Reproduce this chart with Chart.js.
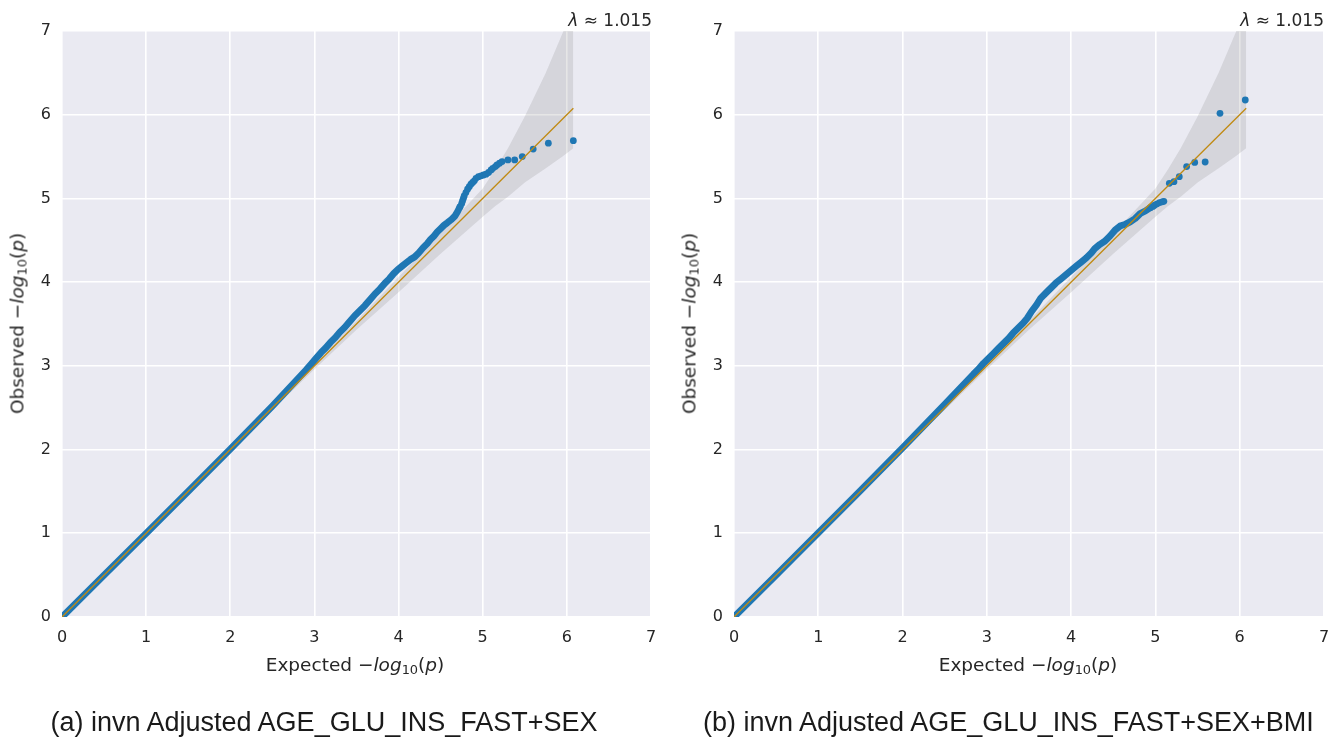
<!DOCTYPE html>
<html>
<head>
<meta charset="utf-8">
<script src="https://cdn.jsdelivr.net/npm/chart.js@4.4.1/dist/chart.umd.min.js"></script>
<style>
  html, body { margin: 0; padding: 0; background: #ffffff; }
  #page { position: relative; width: 1343px; height: 741px; overflow: hidden; }
  canvas { position: absolute; top: 0; }
  .txt { position: absolute; color: #262626; font-family: "DejaVu Sans", sans-serif; line-height: 1; white-space: nowrap; }
  .cap { position: absolute; color: #1a1a1a; font-family: "Liberation Sans", "DejaVu Sans", sans-serif; font-size: 27px; line-height: 1; white-space: nowrap; text-align: center; }
  sub { font-size: 70%; vertical-align: -0.25em; line-height: 0; }
</style>
</head>
<body>
<div id="page">
  <canvas id="qqA" width="671" height="741" style="left:0px"></canvas>
  <canvas id="qqB" width="671" height="741" style="left:672px"></canvas>

  <div class="txt" style="left:452px; top:12px; width:200px; text-align:right; font-size:17px;"><i>λ</i> ≈ 1.015</div>
  <div class="txt" style="left:1124px; top:12px; width:200px; text-align:right; font-size:17px;"><i>λ</i> ≈ 1.015</div>

  <div class="txt" style="left:155px; top:656px; width:400px; text-align:center; font-size:18.5px;">Expected −<i>log</i><sub>10</sub>(<i>p</i>)</div>
  <div class="txt" style="left:828px; top:656px; width:400px; text-align:center; font-size:18.5px;">Expected −<i>log</i><sub>10</sub>(<i>p</i>)</div>

  <div class="txt" style="left:-132px; top:314px; width:300px; height:19px; text-align:center; font-size:18.5px; transform:rotate(-90deg);">Observed −<i>log</i><sub>10</sub>(<i>p</i>)</div>
  <div class="txt" style="left:540px; top:314px; width:300px; height:19px; text-align:center; font-size:18.5px; transform:rotate(-90deg);">Observed −<i>log</i><sub>10</sub>(<i>p</i>)</div>

  <div class="cap" style="left:24px; top:709px; width:600px;">(a) invn Adjusted AGE_GLU_INS_FAST+SEX</div>
  <div class="cap" style="left:703px; top:709px; width:600px;">(b) invn Adjusted AGE_GLU_INS_FAST+SEX+BMI</div>
</div>
<script>
// Axis ticks shared by both panels (expected and observed -log10 p)
const axisTicks = [0, 1, 2, 3, 4, 5, 6, 7];

// Null line y = x, from zero to the largest expected value
const diagX = [0, 6.077];

// 95% confidence band around the null line
const bandX     = [0, 1,     2,     3,    3.5,  4,    4.5,  5,    5.15, 5.3,  5.5,  5.75, 5.96, 6.077];
const bandUpper = [0, 1.005, 2.015, 3.03, 3.54, 4.06, 4.58, 5.12, 5.35, 5.6,  5.98, 6.5,  7.0,  7.3];
const bandLower = [0, 0.995, 1.985, 2.96, 3.43, 3.88, 4.34, 4.78, 4.91, 5.02, 5.19, 5.36, 5.51, 5.6];

// (a) AGE_GLU_INS_FAST+SEX: overlapping points, drawn as one thick trace
const bulkExpA = [0, 0.5, 1, 1.5, 2, 2.5, 2.90, 2.96, 3.02, 3.08, 3.13, 3.19, 3.25, 3.30, 3.36, 3.42,
  3.48, 3.54, 3.60, 3.66, 3.72, 3.78, 3.84, 3.89, 3.94, 3.99, 4.04, 4.09, 4.14, 4.19, 4.24, 4.29,
  4.34, 4.38, 4.42, 4.46, 4.50, 4.54, 4.58, 4.63, 4.67, 4.70, 4.73];
const bulkObsA = [0, 0.5, 1.0, 1.5, 2.005, 2.52, 2.95, 3.02, 3.09, 3.16, 3.21, 3.28, 3.34, 3.40, 3.46, 3.53,
  3.60, 3.66, 3.72, 3.79, 3.86, 3.92, 3.99, 4.04, 4.10, 4.15, 4.19, 4.23, 4.27, 4.30, 4.35, 4.41,
  4.46, 4.51, 4.55, 4.60, 4.64, 4.68, 4.71, 4.75, 4.79, 4.84, 4.90];

// (a) most significant hits, individual points
const tailExpA = [4.73, 4.75, 4.76, 4.77, 4.78, 4.80, 4.82, 4.84, 4.86, 4.88, 4.90, 4.92, 4.95, 4.98,
  5.01, 5.04, 5.07, 5.10, 5.12, 5.15, 5.17, 5.20, 5.23, 5.30, 5.38, 5.47, 5.60, 5.78, 6.077];
const tailObsA = [4.90, 4.94, 4.97, 5.00, 5.03, 5.07, 5.11, 5.14, 5.17, 5.19, 5.21, 5.24, 5.26, 5.27,
  5.28, 5.29, 5.31, 5.34, 5.36, 5.38, 5.40, 5.42, 5.44, 5.46, 5.46, 5.50, 5.59, 5.66, 5.69];

// (b) AGE_GLU_INS_FAST+SEX+BMI: overlapping points, drawn as one thick trace
const bulkExpB = [0, 0.5, 1, 1.5, 2, 2.5, 2.84, 2.90, 2.96, 3.02, 3.08, 3.14, 3.20, 3.26, 3.31, 3.37,
  3.43, 3.48, 3.53, 3.59, 3.64, 3.70, 3.76, 3.82, 3.88, 3.94, 4.00, 4.06, 4.12, 4.18, 4.24, 4.28,
  4.34, 4.40, 4.46, 4.52, 4.58, 4.64, 4.70, 4.76, 4.82, 4.88, 4.94];
const bulkObsB = [0, 0.5, 1.005, 1.51, 2.02, 2.54, 2.90, 2.96, 3.03, 3.09, 3.15, 3.21, 3.27, 3.33, 3.39, 3.45,
  3.51, 3.57, 3.65, 3.73, 3.81, 3.87, 3.93, 3.99, 4.04, 4.09, 4.14, 4.19, 4.24, 4.29, 4.35, 4.40,
  4.45, 4.49, 4.55, 4.62, 4.67, 4.69, 4.72, 4.76, 4.82, 4.85, 4.89];

// (b) most significant hits, individual points
const tailExpB = [4.94, 4.97, 4.99, 5.02, 5.05, 5.08, 5.10, 5.165, 5.22, 5.283, 5.37, 5.466, 5.59, 5.766, 6.066];
const tailObsB = [4.89, 4.905, 4.92, 4.935, 4.95, 4.96, 4.965, 5.18, 5.20, 5.26, 5.38, 5.43, 5.435, 6.017, 6.176];

const BLUE = '#1f77b4';
const GOLD = '#c08a12';
const BAND = 'rgba(128,128,128,0.2)';
const PLOT_BG = '#eaeaf2';

function pairs(xs, ys) {
  return xs.map((x, i) => ({ x: x, y: ys[i] }));
}

// paints the seaborn-style grey plot background
const plotBackground = {
  id: 'plotBackground',
  beforeDraw(chart) {
    const a = chart.chartArea;
    const ctx = chart.ctx;
    ctx.save();
    ctx.fillStyle = PLOT_BG;
    ctx.fillRect(a.left, a.top, a.right - a.left, a.bottom - a.top);
    ctx.restore();
  }
};

function axis(sizeKey, size) {
  return {
    type: 'linear',
    min: 0,
    max: 7,
    afterBuildTicks(scale) { scale.ticks = axisTicks.map(v => ({ value: v })); },
    afterFit(scale) { scale[sizeKey] = size; },
    border: { display: false },
    grid: { color: '#ffffff', lineWidth: 1.6, drawTicks: false },
    ticks: {
      color: '#262626',
      font: { family: 'DejaVu Sans', size: 16 },
      padding: 11,
      maxRotation: 0,
      autoSkip: false
    }
  };
}

function makePanel(id, bulkX, bulkY, tailX, tailY, rightPad) {
  new Chart(document.getElementById(id), {
    type: 'line',
    data: {
      datasets: [
        { // null line
          data: pairs(diagX, diagX),
          borderColor: GOLD, borderWidth: 1.3, pointRadius: 0, fill: false, order: 0, clip: 0
        },
        { // individual tail points
          data: pairs(tailX, tailY),
          showLine: false, pointRadius: 3.4, pointBorderWidth: 0,
          pointBackgroundColor: BLUE, backgroundColor: BLUE, borderColor: BLUE, order: 1, clip: 0
        },
        { // dense run of overlapping points
          data: pairs(bulkX, bulkY),
          borderColor: BLUE, borderWidth: 6.8, pointRadius: 0, fill: false,
          borderCapStyle: 'round', borderJoinStyle: 'round', order: 2, clip: 0
        },
        { // confidence band, upper edge (filled down to the lower edge)
          data: pairs(bandX, bandUpper),
          borderWidth: 0, borderColor: 'rgba(0,0,0,0)', pointRadius: 0,
          fill: '+1', backgroundColor: BAND, order: 3, clip: 0
        },
        { // confidence band, lower edge
          data: pairs(bandX, bandLower),
          borderWidth: 0, borderColor: 'rgba(0,0,0,0)', pointRadius: 0,
          fill: false, order: 4, clip: 0
        }
      ]
    },
    options: {
      responsive: false,
      animation: false,
      devicePixelRatio: 1,
      layout: { padding: { top: 31, right: rightPad, bottom: 0, left: 0 } },
      elements: { line: { tension: 0 } },
      plugins: { legend: { display: false }, tooltip: { enabled: false } },
      scales: {
        x: axis('height', 124),
        y: axis('width', 62)
      }
    },
    plugins: [plotBackground]
  });
}

makePanel('qqA', bulkExpA, bulkObsA, tailExpA, tailObsA, 20);
makePanel('qqB', bulkExpB, bulkObsB, tailExpB, tailObsB, 19);
</script>
</body>
</html>
